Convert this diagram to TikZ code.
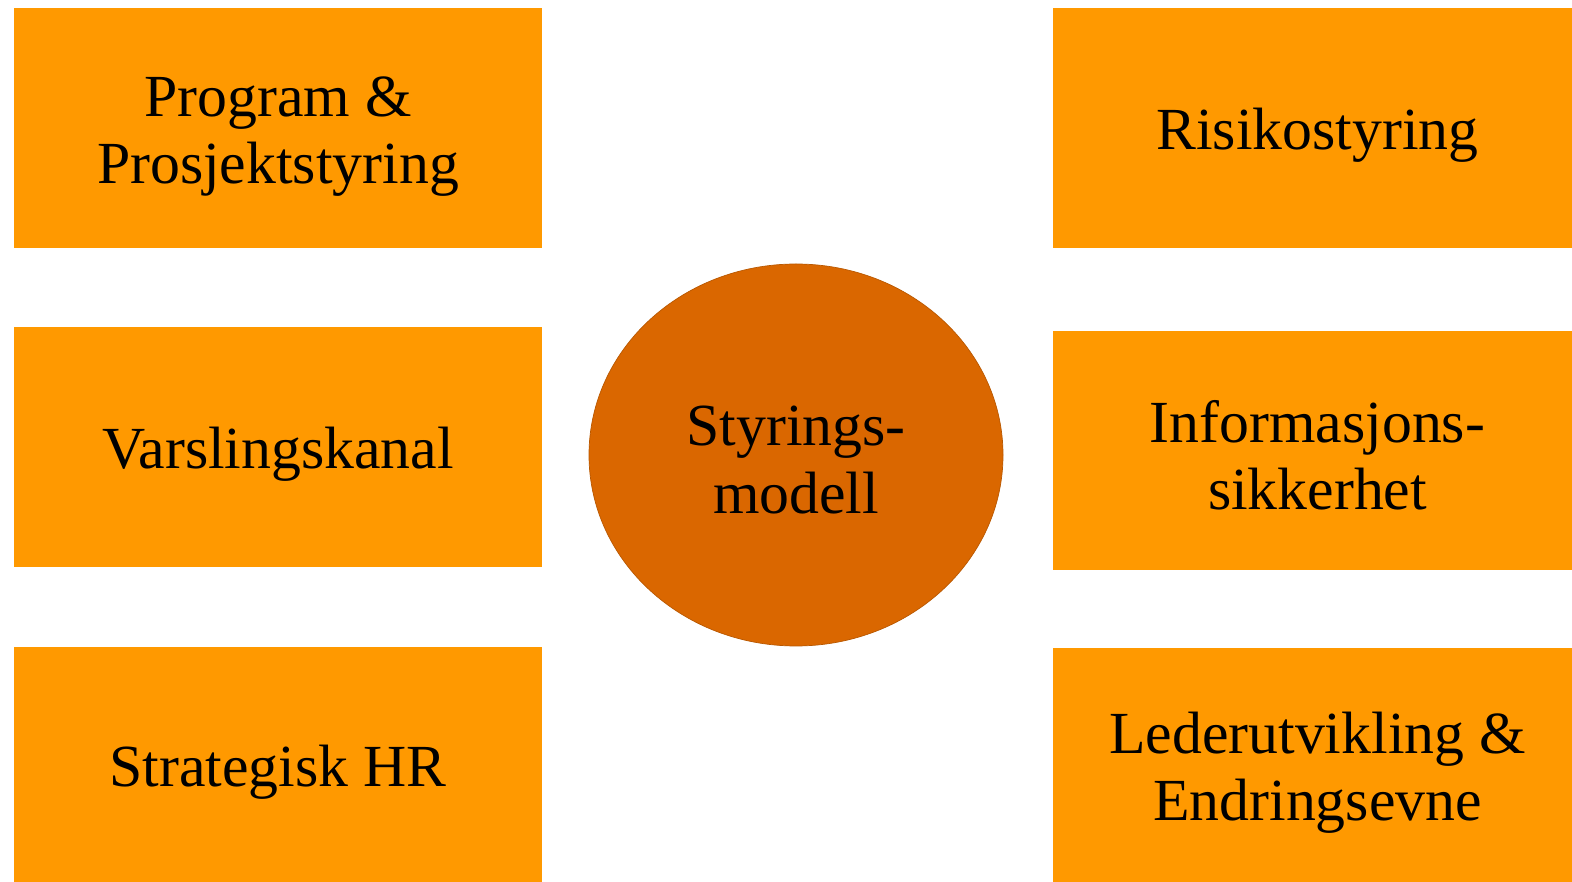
\documentclass[tikz,border=0pt]{standalone}
\usepackage{fontspec}
\setmainfont{Liberation Serif}
\usetikzlibrary{shapes.geometric}
\definecolor{boxorange}{RGB}{255, 153, 0}
\definecolor{coreorange}{RGB}{218, 103, 0}
\tikzset{
  omrade/.style={fill=boxorange, minimum width=10.56cm, minimum height=4.8cm, inner sep=0pt},
  kjerne/.style={ellipse, fill=coreorange, draw=coreorange!85!black, line width=0.4pt, minimum width=8.28cm, minimum height=7.64cm, inner sep=0pt},
  tekst/.style={inner sep=0pt, align=center, font=\fontsize{34}{38.4}\selectfont}
}

\begin{document}
\begin{tikzpicture}
  \useasboundingbox (0, 0) rectangle (31.44, 17.64);

  % Left column
  \node[omrade] (prog) at (5.56, 15.08) {};
  \node[omrade] (varsl) at (5.56, 8.70) {};
  \node[omrade, minimum height=4.7cm] (hr) at (5.56, 2.35) {};
  \node[tekst] (prog-t) at ([yshift=-0.17cm]prog.center) {Program \&\\Prosjektstyring};
  \node[tekst] (varsl-t) at ([yshift=-0.15cm]varsl.center) {Varslingskanal};
  \node[tekst] (hr-t) at ([yshift=-0.15cm]hr.center) {Strategisk HR};

  % Centre
  \node[kjerne] (modell) at (15.92, 8.54) {};
  \node[tekst] (modell-t) at ([yshift=-0.1cm]modell.center) {Styrings-\\modell};

  % Right column
  \node[omrade, minimum width=10.38cm] (risiko) at (26.25, 15.08) {};
  \node[omrade, minimum width=10.38cm, minimum height=4.78cm] (info) at (26.25, 8.63) {};
  \node[omrade, minimum width=10.38cm, minimum height=4.68cm] (leder) at (26.25, 2.34) {};
  \node[tekst] (risiko-t) at ([xshift=0.1cm, yshift=-0.15cm]risiko.center) {Risikostyring};
  \node[tekst] (info-t) at ([xshift=0.1cm, yshift=-0.1cm]info.center) {Informasjons-\\sikkerhet};
  \node[tekst] (leder-t) at ([xshift=0.1cm, yshift=-0.15cm]leder.center) {Lederutvikling \&\\Endringsevne};
\end{tikzpicture}
\end{document}
